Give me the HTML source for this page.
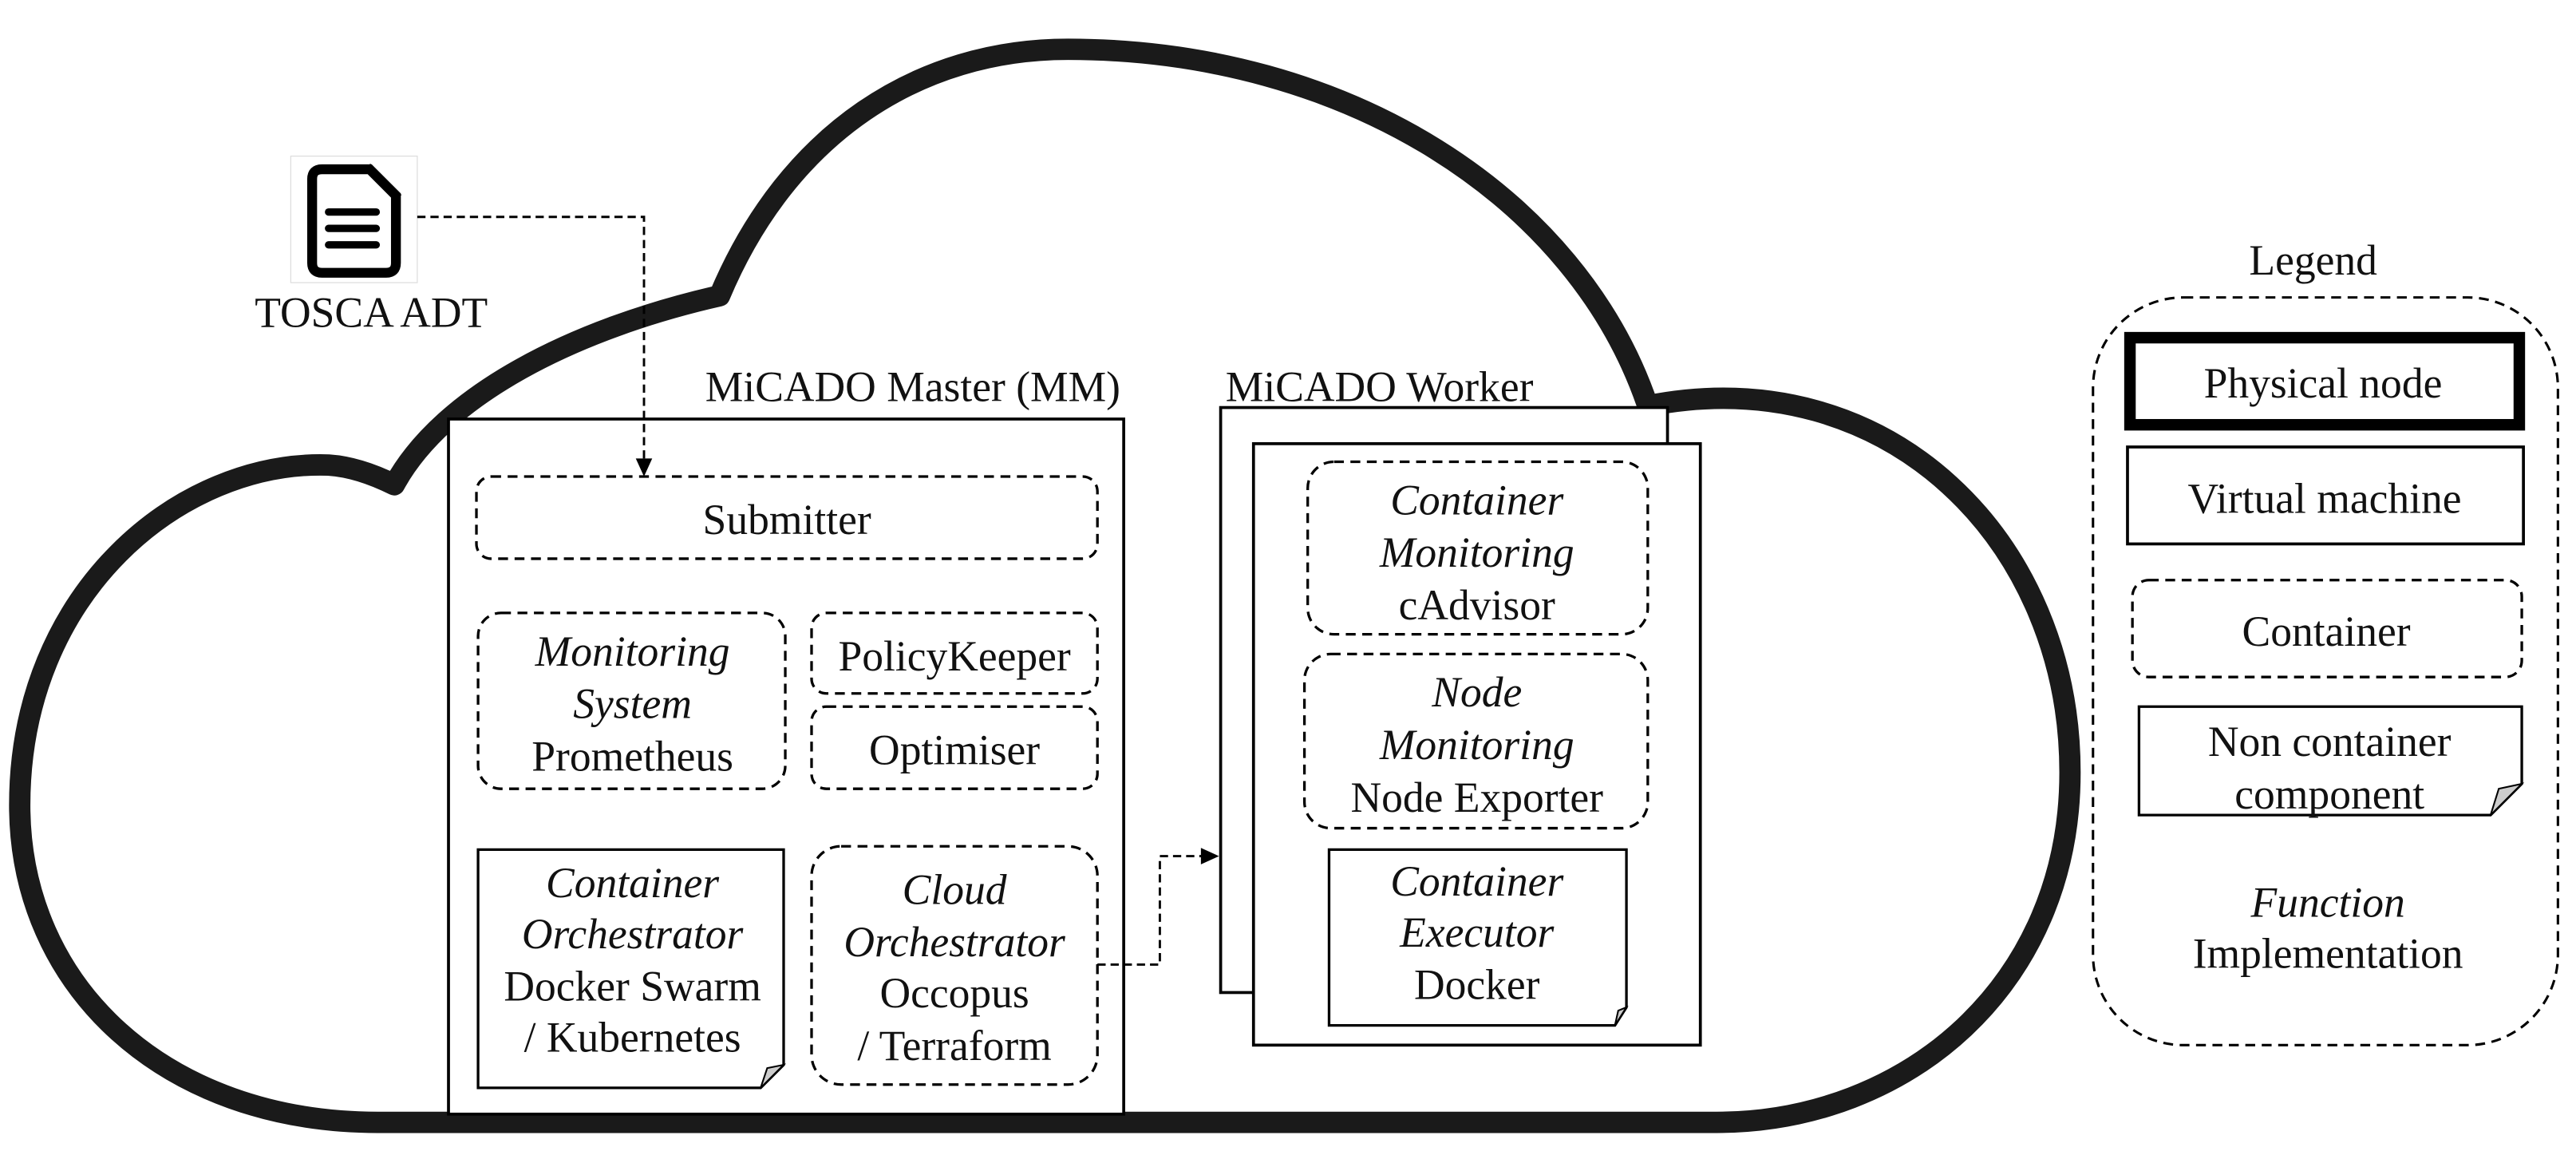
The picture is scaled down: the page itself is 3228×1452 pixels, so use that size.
<!DOCTYPE html>
<html><head><meta charset="utf-8"><style>
html,body{margin:0;padding:0;background:#fff;}
svg{display:block;}
text{font-family:"Liberation Serif",serif;font-size:26px;fill:#111;text-anchor:middle;}
.i{font-style:italic;}
</style></head><body>
<svg width="3228" height="1452" viewBox="0 0 1568 705.3" preserveAspectRatio="none" xmlns="http://www.w3.org/2000/svg">
<!-- cloud -->
<path d="M1045,683 L230,683 C100,683 12,600 12,490 C12,360 110,280 200,283 C215,284 230,290 240,295 C270,240 350,200 438,180 C480,80 560,30 650,30 C820,30 960,120 1003,247 C1150,218 1260,330 1260,470 C1260,600 1160,683 1045,683 Z" fill="#fff" stroke="#1a1a1a" stroke-width="13" stroke-linejoin="round"/>

<!-- TOSCA icon -->
<rect x="177" y="95" width="77" height="77" fill="#fff" stroke="#ddd" stroke-width="0.6"/>
<path d="M196,103 H225 L241,119 V160 Q241,166 235,166 H196 Q190,166 190,160 V109 Q190,103 196,103 Z" fill="none" stroke="#000" stroke-width="6"/>
<path d="M224,101 L243,120" stroke="#000" stroke-width="4"/>
<line x1="200" y1="129" x2="229" y2="129" stroke="#000" stroke-width="4.5" stroke-linecap="round"/>
<line x1="200" y1="139" x2="229" y2="139" stroke="#000" stroke-width="4.5" stroke-linecap="round"/>
<line x1="200" y1="149" x2="229" y2="149" stroke="#000" stroke-width="4.5" stroke-linecap="round"/>
<text x="226" y="199">TOSCA ADT</text>

<!-- MM -->
<text x="682" y="244" style="text-anchor:end">MiCADO Master (MM)</text>
<rect x="273" y="255" width="411" height="423" fill="#fff" stroke="#000" stroke-width="1.8"/>

<!-- arrow TOSCA -> Submitter -->
<path d="M254,132 H392 V280" fill="none" stroke="#000" stroke-width="1.4" stroke-dasharray="5,3"/>
<polygon points="387,279 397,279 392,290" fill="#000"/>

<g fill="#fff" stroke="#000" stroke-width="1.6" stroke-dasharray="6,4">
<rect x="290" y="290" width="378" height="50" rx="9"/>
<rect x="291" y="373" width="187" height="107" rx="14"/>
<rect x="494" y="373" width="174" height="49" rx="9"/>
<rect x="494" y="430" width="174" height="50" rx="9"/>
<rect x="494" y="515" width="174" height="145" rx="18"/>
</g>
<text x="479" y="325">Submitter</text>
<text x="385" y="405" class="i">Monitoring</text>
<text x="385" y="437" class="i">System</text>
<text x="385" y="469">Prometheus</text>
<text x="581" y="408">PolicyKeeper</text>
<text x="581" y="465">Optimiser</text>

<path d="M291,517 H477 V648 L463,662 H291 Z" fill="#fff" stroke="#000" stroke-width="1.6"/>
<path d="M463,662 L467,650 L477,648 Z" fill="#ccc" stroke="#000" stroke-width="1"/>
<text x="385" y="546" class="i">Container</text>
<text x="385" y="577" class="i">Orchestrator</text>
<text x="385" y="609">Docker Swarm</text>
<text x="385" y="640">/ Kubernetes</text>

<text x="581" y="550" class="i">Cloud</text>
<text x="581" y="582" class="i">Orchestrator</text>
<text x="581" y="613">Occopus</text>
<text x="581" y="645">/ Terraform</text>

<!-- arrow to worker -->
<path d="M668,587 H706 V521 H732" fill="none" stroke="#000" stroke-width="1.4" stroke-dasharray="5,3"/>
<polygon points="731,516 742,521 731,526" fill="#000"/>

<!-- Worker -->
<text x="746" y="244" style="text-anchor:start">MiCADO Worker</text>
<rect x="743" y="248" width="272" height="356" fill="#fff" stroke="#000" stroke-width="1.8"/>
<rect x="763" y="270" width="272" height="366" fill="#fff" stroke="#000" stroke-width="1.8"/>
<g fill="#fff" stroke="#000" stroke-width="1.6" stroke-dasharray="6,4">
<rect x="796" y="281" width="207" height="105" rx="16"/>
<rect x="794" y="398" width="209" height="106" rx="16"/>
</g>
<text x="899" y="313" class="i">Container</text>
<text x="899" y="345" class="i">Monitoring</text>
<text x="899" y="377">cAdvisor</text>
<text x="899" y="430" class="i">Node</text>
<text x="899" y="462" class="i">Monitoring</text>
<text x="899" y="494">Node Exporter</text>
<path d="M809,517 H990 V613 L983,624 H809 Z" fill="#fff" stroke="#000" stroke-width="1.6"/>
<path d="M983,624 L985,615 L990,613 Z" fill="#ccc" stroke="#000" stroke-width="1"/>
<text x="899" y="545" class="i">Container</text>
<text x="899" y="576" class="i">Executor</text>
<text x="899" y="608">Docker</text>

<!-- Legend -->
<text x="1408" y="167">Legend</text>
<rect x="1274" y="181" width="283" height="455" rx="55" fill="#fff" stroke="#000" stroke-width="1.5" stroke-dasharray="6,4"/>
<rect x="1296.5" y="205.5" width="237" height="53" fill="#fff" stroke="#000" stroke-width="7"/>
<text x="1414" y="242">Physical node</text>
<rect x="1295" y="272" width="241" height="59" fill="#fff" stroke="#000" stroke-width="1.8"/>
<text x="1415" y="312">Virtual machine</text>
<rect x="1298" y="353" width="237" height="59" rx="10" fill="#fff" stroke="#000" stroke-width="1.6" stroke-dasharray="6,4"/>
<text x="1416" y="393">Container</text>
<path d="M1302,430 H1535 V477 L1516,496 H1302 Z" fill="#fff" stroke="#000" stroke-width="1.6"/>
<path d="M1516,496 L1521,480 L1535,477 Z" fill="#ccc" stroke="#000" stroke-width="1"/>
<text x="1418" y="460">Non container</text>
<text x="1418" y="492">component</text>
<text x="1417" y="558" class="i">Function</text>
<text x="1417" y="589">Implementation</text>
</svg>
</body></html>
